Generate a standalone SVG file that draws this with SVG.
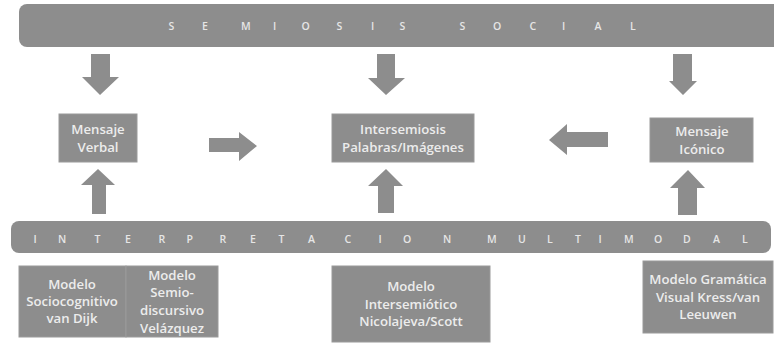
<svg xmlns="http://www.w3.org/2000/svg" width="774" height="343" viewBox="0 0 774 343">
<style>
.bar{fill:#8d8d8d}
.box{fill:#8d8d8d;stroke:#9a9a9a;stroke-width:1}
.arr{fill:#8d8d8d}
.t{font-family:"Open Sans","Liberation Sans",sans-serif;font-size:13.2px;font-weight:600;fill:#ececec;text-anchor:middle}
.bt{font-family:"Open Sans","Liberation Sans",sans-serif;font-size:10.5px;font-weight:600;fill:#e6e6e6}
</style>
<rect width="774" height="343" fill="#ffffff"/>
<g id="semiosis-social">
<rect class="bar" x="19" y="4" width="770" height="43" rx="8"/>
<text class="bt" y="30" x="168.5 202 241 273 301.5 336.5 371 399.5 430 459.5 493 529.5 562 594.5 630">SEMIOSIS SOCIAL</text>
</g>
<g id="interpretacion-multimodal">
<rect class="bar" x="11" y="221" width="760" height="32" rx="8"/>
<text class="bt" y="243" x="33.5 58 94.5 125 158.5 186.5 219.5 250 278.5 308 344.5 378.5 403 443 465 487 518 547 575 598.5 624 654 683 713 742">INTERPRETACION MULTIMODAL</text>
</g>
<g id="mensaje-verbal">
<rect class="box" x="59" y="114" width="78" height="48"/>
<text class="t" x="98" y="134">Mensaje</text>
<text class="t" x="98" y="152">Verbal</text>
</g>
<g id="intersemiosis">
<rect class="box" x="332" y="114" width="142" height="48"/>
<text class="t" x="403" y="134">Intersemiosis</text>
<text class="t" x="403" y="152">Palabras/Imágenes</text>
</g>
<g id="mensaje-iconico">
<rect class="box" x="650" y="118" width="103" height="44"/>
<text class="t" x="702" y="136">Mensaje</text>
<text class="t" x="702" y="154">Icónico</text>
</g>
<g id="modelo-sociocognitivo">
<rect class="box" x="19" y="266" width="107" height="71"/>
<text class="t" x="72" y="289">Modelo</text>
<text class="t" x="72" y="306">Sociocognitivo</text>
<text class="t" x="72" y="323">van Dijk</text>
</g>
<g id="modelo-semiodiscursivo">
<rect class="box" x="126" y="266" width="92" height="71"/>
<text class="t" x="172" y="280">Modelo</text>
<text class="t" x="172" y="297">Semio-</text>
<text class="t" x="172" y="315">discursivo</text>
<text class="t" x="172" y="333">Velázquez</text>
</g>
<g id="modelo-intersemiotico">
<rect class="box" x="332" y="266" width="158" height="76"/>
<text class="t" x="411" y="291">Modelo</text>
<text class="t" x="411" y="309">Intersemiótico</text>
<text class="t" x="411" y="326">Nicolajeva/Scott</text>
</g>
<g id="modelo-gramatica-visual">
<rect class="box" x="643" y="261" width="130" height="72"/>
<text class="t" x="708" y="284">Modelo Gramática</text>
<text class="t" x="708" y="302">Visual Kress/van</text>
<text class="t" x="708" y="319">Leeuwen</text>
</g>
<g id="connectors">
<polygon class="arr" points="91,54 110,54 110,77 119,77 100,95 82,77 91,77"/>
<polygon class="arr" points="377,54 395,54 395,78 405,78 386,95 368,78 377,78"/>
<polygon class="arr" points="673,54 692,54 692,81 697,81 683,95 669,81 673,81"/>
<polygon class="arr" points="98,169 115,185 106,185 106,214 92,214 92,185 81,185"/>
<polygon class="arr" points="386,169 403,186 394,186 394,213 378,213 378,186 368,186"/>
<polygon class="arr" points="688,170 705,188 697,188 697,215 678,215 678,188 670,188"/>
<polygon class="arr" points="209,138 239,138 239,132 257,146 239,161 239,152 209,152"/>
<polygon class="arr" points="608,132 567,132 567,124 549,140 567,155 567,147 608,147"/>
</g>
</svg>
